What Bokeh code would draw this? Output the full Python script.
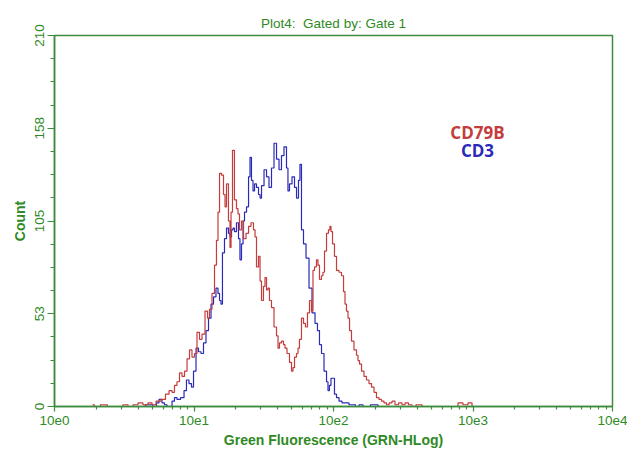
from bokeh.plotting import figure
from bokeh.models import Range1d, FixedTicker, CustomJSTickFormatter, Label
from bokeh.embed import file_html
from bokeh.resources import INLINE

# ---- data (log10 fluorescence position, count) ----
red_log = [0.272, 0.300, 0.358, 0.400, 0.473, 0.509, 0.545, 0.581, 0.616, 0.652, 0.688, 0.710,
           0.746, 0.781, 0.810, 0.832, 0.853, 0.867, 0.889, 0.903, 0.925, 0.939, 0.961, 0.975,
           0.996, 1.011, 1.032, 1.047, 1.068, 1.090, 1.104, 1.118, 1.140, 1.154, 1.168, 1.176,
           1.190, 1.204, 1.219, 1.226, 1.240, 1.254, 1.262, 1.269, 1.283, 1.297, 1.312, 1.319,
           1.333, 1.348, 1.362, 1.384, 1.398, 1.419, 1.434, 1.441, 1.455, 1.470, 1.477, 1.491,
           1.505, 1.513, 1.527, 1.534, 1.548, 1.563, 1.584, 1.599, 1.606, 1.620, 1.634, 1.649,
           1.656, 1.677, 1.692, 1.706, 1.713, 1.728, 1.742, 1.749, 1.763, 1.778, 1.792, 1.806,
           1.821, 1.835, 1.849, 1.857, 1.871, 1.885, 1.892, 1.907, 1.921, 1.928, 1.943, 1.957,
           1.971, 1.978, 1.986, 2.000, 2.014, 2.029, 2.050, 2.065, 2.079, 2.086, 2.100, 2.108,
           2.122, 2.136, 2.158, 2.172, 2.179, 2.194, 2.208, 2.229, 2.244, 2.265, 2.280, 2.301,
           2.315, 2.337, 2.351, 2.373, 2.387, 2.409, 2.430, 2.452, 2.480, 2.502, 2.523, 2.552,
           2.573, 2.609, 2.659, 2.875, 2.910, 2.946, 2.982, 3.004]
red_count = [1, 0, 1, 0, 0, 1, 0, 1, 2, 1, 2, 1,
             3, 4, 7, 9, 8, 12, 14, 19, 17, 20, 27, 32,
             28, 30, 42, 38, 41, 54, 50, 55, 64, 80, 94, 110,
             132, 131, 120, 113, 126, 105, 90, 110, 145, 117, 112, 109,
             100, 105, 95, 98, 102, 104, 100, 96, 79, 85, 71, 60,
             68, 73, 66, 67, 60, 56, 45, 40, 33, 36, 37, 35,
             33, 30, 25, 20, 22, 28, 30, 33, 38, 50, 47, 45,
             53, 60, 54, 77, 79, 83, 80, 72, 74, 76, 88, 98,
             100, 102, 99, 92, 85, 77, 76, 74, 65, 58, 54, 50,
             43, 37, 32, 29, 26, 24, 20, 17, 15, 13, 11, 8,
             5, 4, 3, 2, 1, 2, 3, 1, 2, 1, 2, 1,
             0, 1, 0, 0, 2, 1, 2, 0]

blue_log = [0.473, 0.616, 0.688, 0.724, 0.738, 0.760, 0.781, 0.796, 0.817, 0.832, 0.853, 0.867,
            0.889, 0.918, 0.939, 0.953, 0.975, 0.989, 1.004, 1.025, 1.039, 1.061, 1.075, 1.097,
            1.111, 1.133, 1.147, 1.168, 1.176, 1.190, 1.197, 1.211, 1.226, 1.240, 1.254, 1.262,
            1.276, 1.283, 1.297, 1.312, 1.326, 1.333, 1.348, 1.355, 1.369, 1.384, 1.398, 1.405,
            1.419, 1.427, 1.441, 1.455, 1.470, 1.477, 1.491, 1.513, 1.527, 1.548, 1.563, 1.584,
            1.599, 1.620, 1.634, 1.656, 1.670, 1.677, 1.692, 1.713, 1.728, 1.742, 1.756, 1.763,
            1.778, 1.792, 1.814, 1.835, 1.857, 1.878, 1.892, 1.907, 1.921, 1.943, 1.957, 1.964,
            1.978, 1.986, 2.000, 2.014, 2.029, 2.050, 2.072, 2.100, 2.122, 2.143, 2.172, 2.194,
            2.229, 2.301, 2.337, 2.444]
blue_count = [0, 0, 1, 0, 2, 4, 2, 1, 0, 0, 3, 5,
              4, 5, 9, 15, 13, 11, 20, 33, 31, 30, 36, 43,
              50, 58, 62, 67, 64, 60, 58, 87, 95, 101, 98, 96,
              100, 101, 99, 104, 95, 83, 92, 105, 110, 113, 130, 141,
              128, 122, 126, 124, 120, 118, 125, 134, 130, 124, 135, 149,
              140, 134, 142, 147, 135, 122, 126, 130, 124, 118, 128, 137,
              100, 92, 84, 67, 53, 47, 43, 35, 30, 20, 14, 9,
              12, 16, 16, 7, 5, 3, 2, 2, 1, 1, 0, 1,
              0, 1, 0, 0]

x_ticks = [1, 10, 100, 1000, 10000]
y_ticks = [0, 52.5, 105, 157.5, 210]
series_names = ["CD79B", "CD3"]

GREEN = "#3d8b3d"
TEXT_GREEN = "#2f8a25"
RED = "#c43c3c"
BLUE = "#2a2ab8"

p = figure(width=627, height=453, x_axis_type="log",
           x_range=Range1d(1, 10000), y_range=Range1d(0, 210),
           output_backend="svg", toolbar_location=None,
           min_border_left=54, min_border_right=15, min_border_top=35, min_border_bottom=47,
           background_fill_color="white", border_fill_color="white")

p.title.text = "Plot4:\u00a0\u00a0Gated by: Gate 1"
p.title.align = "center"
p.title.text_font = "Liberation Sans"
p.title.text_font_size = "13.5px"
p.title.text_font_style = "normal"
p.title.text_color = TEXT_GREEN

p.xgrid.visible = False
p.ygrid.visible = False
p.outline_line_color = GREEN
p.outline_line_width = 1.5
p.outline_line_alpha = 1.0

red_x = [10 ** v for v in red_log]
blue_x = [10 ** v for v in blue_log]
p.step(blue_x, blue_count, mode="center", line_color=BLUE, line_width=1.2)
p.step(red_x, red_count, mode="center", line_color=RED, line_width=1.2)

# x axis
xa = p.xaxis[0]
xa.ticker = FixedTicker(ticks=x_ticks,
                        minor_ticks=[k * 10 ** d for d in range(4) for k in range(2, 10)])
xa.formatter = CustomJSTickFormatter(code="return '10e' + Math.round(Math.log10(tick));")
xa.axis_label = "Green Fluorescence (GRN-HLog)"

# y axis
ya = p.yaxis[0]
ya.ticker = FixedTicker(ticks=y_ticks, minor_ticks=[13.125 * k for k in range(17)])
ya.formatter = CustomJSTickFormatter(code="return Math.round(tick).toString();")
ya.axis_label = "Count"
ya.major_label_orientation = "vertical"

for ax in (xa, ya):
    ax.axis_line_color = GREEN
    ax.axis_line_width = 1.5
    ax.major_tick_line_color = GREEN
    ax.minor_tick_line_color = GREEN
    ax.major_tick_line_width = 1.2
    ax.minor_tick_line_width = 1.2
    ax.major_tick_in = 0
    ax.minor_tick_in = 0
    ax.major_label_text_color = TEXT_GREEN
    ax.major_label_text_font = "Liberation Sans"
    ax.major_label_text_font_size = "13.5px"
    ax.axis_label_text_color = TEXT_GREEN
    ax.axis_label_text_font = "Liberation Sans"
    ax.axis_label_text_font_size = "14px"
    ax.axis_label_text_font_style = "bold"

xa.major_tick_out = 5
xa.minor_tick_out = 3
xa.major_label_standoff = 4
xa.axis_label_standoff = 4
ya.major_tick_out = 7
ya.minor_tick_out = 4
ya.major_label_standoff = 4
ya.axis_label_standoff = 4

p.add_layout(Label(x=1077, y=155, text=series_names[0], text_color=RED,
                   text_font="Open Sans", text_font_size="17px", text_font_style="bold",
                   text_align="center", text_baseline="middle"))
p.add_layout(Label(x=1077, y=145, text=series_names[1], text_color=BLUE,
                   text_font="Open Sans", text_font_size="17px", text_font_style="bold",
                   text_align="center", text_baseline="middle"))

open("out.html", "w").write(file_html(p, INLINE))
